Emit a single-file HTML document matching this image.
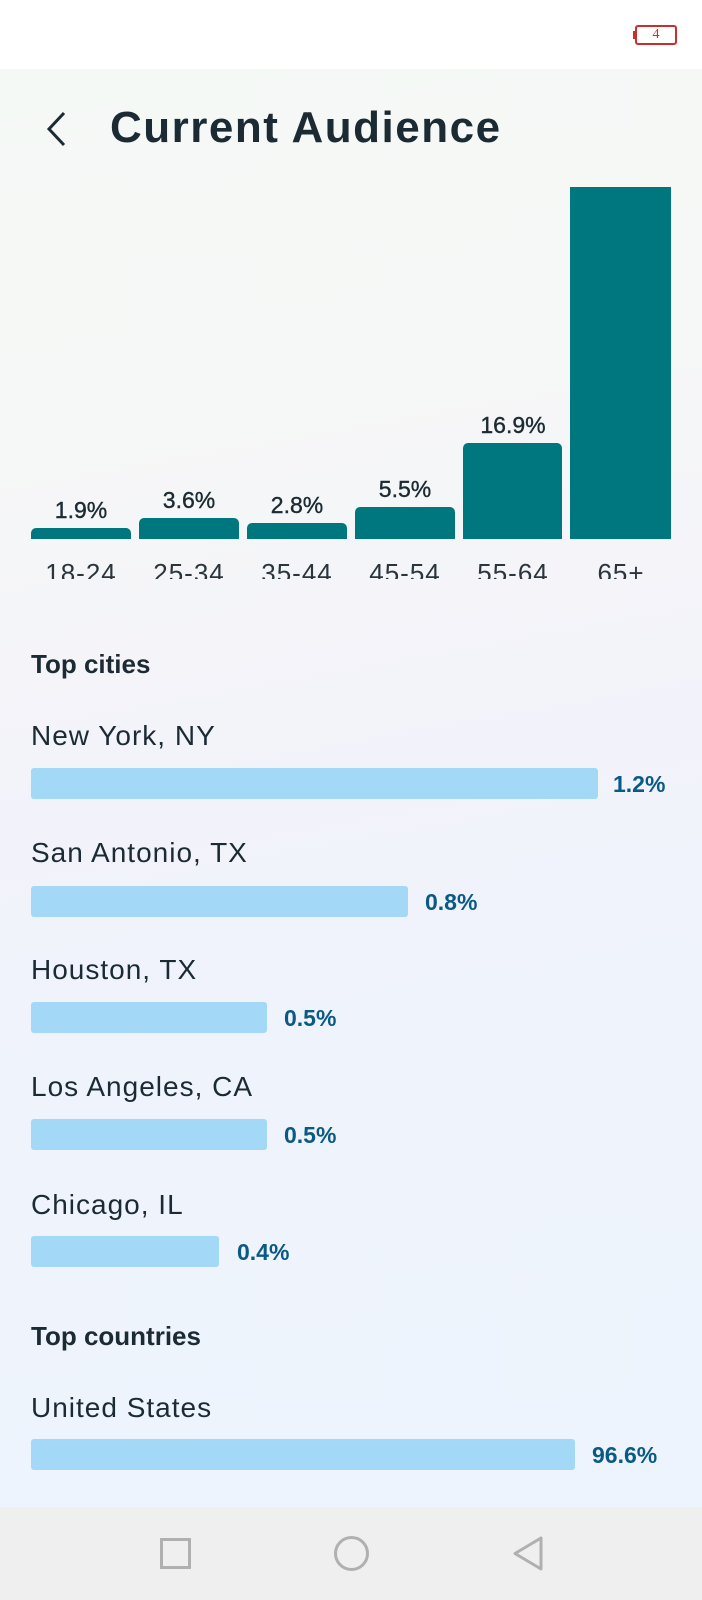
<!DOCTYPE html>
<html><head><meta charset="utf-8"><style>
*{margin:0;padding:0;box-sizing:border-box}
body{width:702px;height:1600px;position:relative;overflow:hidden;font-family:"Liberation Sans",sans-serif;background:#fff}
.bg{position:absolute;left:0;top:69px;width:702px;height:1438px;background:linear-gradient(170deg,#f5f9f6 0%,#f6f7f7 25%,#f3f3fa 45%,#eef3fc 70%,#edf4fd 100%)}
.a{position:absolute;white-space:nowrap}
.bar{position:absolute;background:#00777e;border-radius:5px 5px 0 0}
.pl{position:absolute;font-size:23px;color:#1c2b33;text-align:center;width:110px;line-height:1;-webkit-text-stroke:0.4px #1c2b33}
.ax{position:absolute;font-size:26px;color:#2a353c;text-align:center;width:110px;line-height:1;top:560px;height:19px;overflow:hidden;letter-spacing:1px}
.name{position:absolute;left:31px;font-size:28px;color:#1c2b33;letter-spacing:1px;line-height:1}
.hb{position:absolute;left:31px;height:31px;background:#a3d8f6;border-radius:3px}
.val{position:absolute;font-size:23px;color:#0a5a85;font-weight:bold;line-height:1}
.h{position:absolute;left:31px;font-size:26px;font-weight:bold;color:#1c2b33;line-height:1}
</style></head><body>
<div class="bg"></div>
<div class="a" style="left:635px;top:25px;width:42px;height:20px;border:2px solid #c9302c;border-radius:3px;color:#c9302c;font-size:14px;text-align:center;line-height:16px;font-family:'Liberation Serif',serif">4</div>
<div class="a" style="left:633px;top:31px;width:3px;height:8px;background:#c9302c"></div>
<svg class="a" style="left:44px;top:110px" width="26" height="40"><polyline points="20,3 5,19 20,35" fill="none" stroke="#1c2b33" stroke-width="3"/></svg>
<div class="a" style="left:110px;top:104px;font-size:44px;font-weight:bold;color:#1c2b33;letter-spacing:1.5px;line-height:1.1">Current Audience</div>

<div class="bar" style="left:31px;top:528px;width:100px;height:11px"></div>
<div class="bar" style="left:139px;top:518px;width:100px;height:21px"></div>
<div class="bar" style="left:247px;top:523px;width:100px;height:16px"></div>
<div class="bar" style="left:355px;top:507px;width:100px;height:32px"></div>
<div class="bar" style="left:463px;top:443px;width:99px;height:96px"></div>
<div class="bar" style="left:570px;top:187px;width:101px;height:352px;border-radius:0"></div>
<div class="pl" style="left:26px;top:499px">1.9%</div>
<div class="pl" style="left:134px;top:489px">3.6%</div>
<div class="pl" style="left:242px;top:494px">2.8%</div>
<div class="pl" style="left:350px;top:478px">5.5%</div>
<div class="pl" style="left:458px;top:414px">16.9%</div>
<div class="ax" style="left:26px">18-24</div>
<div class="ax" style="left:134px">25-34</div>
<div class="ax" style="left:242px">35-44</div>
<div class="ax" style="left:350px">45-54</div>
<div class="ax" style="left:458px">55-64</div>
<div class="ax" style="left:566px">65+</div>

<div class="h" style="top:651px">Top cities</div>
<div class="name" style="top:722px">New York, NY</div>
<div class="hb" style="top:768px;width:567px"></div>
<div class="val" style="left:613px;top:773px">1.2%</div>
<div class="name" style="top:839px">San Antonio, TX</div>
<div class="hb" style="top:886px;width:377px"></div>
<div class="val" style="left:425px;top:891px">0.8%</div>
<div class="name" style="top:956px">Houston, TX</div>
<div class="hb" style="top:1002px;width:236px"></div>
<div class="val" style="left:284px;top:1007px">0.5%</div>
<div class="name" style="top:1073px">Los Angeles, CA</div>
<div class="hb" style="top:1119px;width:236px"></div>
<div class="val" style="left:284px;top:1124px">0.5%</div>
<div class="name" style="top:1191px">Chicago, IL</div>
<div class="hb" style="top:1236px;width:188px"></div>
<div class="val" style="left:237px;top:1241px">0.4%</div>

<div class="h" style="top:1323px">Top countries</div>
<div class="name" style="top:1394px">United States</div>
<div class="hb" style="top:1439px;width:544px"></div>
<div class="val" style="left:592px;top:1444px">96.6%</div>

<div class="a" style="left:0;top:1507px;width:702px;height:93px;background:#efefef"></div>
<div class="a" style="left:160px;top:1538px;width:31px;height:31px;border:3px solid #b0b0b0"></div>
<div class="a" style="left:334px;top:1536px;width:35px;height:35px;border:3px solid #b0b0b0;border-radius:50%"></div>
<svg class="a" style="left:511px;top:1535px" width="34" height="38"><polygon points="30,3 30,34 4,18.5" fill="none" stroke="#b0b0b0" stroke-width="3" stroke-linejoin="round"/></svg>
</body></html>
